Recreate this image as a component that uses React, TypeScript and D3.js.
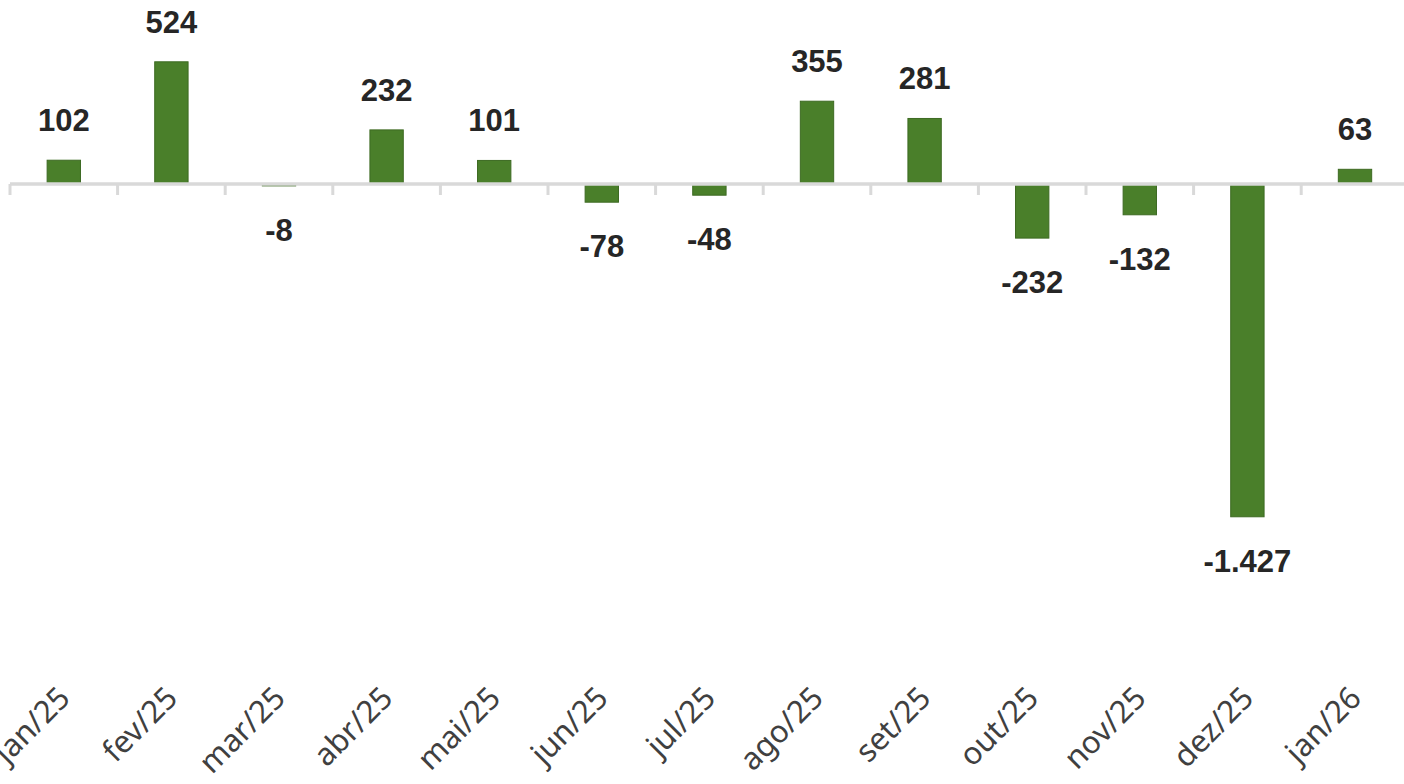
import React, {useEffect, useRef} from 'react'
import * as d3 from 'd3'

const months = ['jan/25', 'fev/25', 'mar/25', 'abr/25', 'mai/25', 'jun/25', 'jul/25', 'ago/25', 'set/25', 'out/25', 'nov/25', 'dez/25', 'jan/26']
const values = [102, 524, -8, 232, 101, -78, -48, 355, 281, -232, -132, -1427, 63]

const width = 1404
const height = 784
const barColor = '#4a7f2a'
const barStroke = '#3d6a22'
const axisColor = '#d9d9d9'

// pt-BR number format: 1.427, plain hyphen for negatives
const ptBR = d3.formatLocale({decimal: ',', thousands: '.', grouping: [3], currency: ['R$', ''], minus: '-'})
const fmt = ptBR.format(',d')

const App = () => {
  const ref = useRef<SVGSVGElement | null>(null)

  useEffect(() => {
    document.body.style.margin = '0'
    const svg = d3.select(ref.current)
    svg.selectAll('*').remove()

    const step = 107.6
    const x = d3.scaleBand()
      .domain(months)
      .range([10, 10 + step * months.length])
      .paddingInner(0.69)
      .paddingOuter(0.345)

    // slope: 524 -> 122px above the zero line
    const y = d3.scaleLinear()
      .domain([-1500, 600])
      .range([184 + 1500 * 0.2332, 184 - 600 * 0.2332])

    const y0 = y(0)

    // bars
    svg.selectAll('rect.bar')
      .data(values)
      .enter()
      .append('rect')
      .attr('class', 'bar')
      .attr('x', (d, i) => x(months[i])!)
      .attr('width', x.bandwidth())
      .attr('y', d => Math.min(y(d), y0))
      .attr('height', d => Math.abs(y(d) - y0))
      .attr('fill', barColor)
      .attr('stroke', barStroke)
      .attr('stroke-width', 1)

    // zero axis + ticks at band edges
    svg.append('line')
      .attr('x1', x.range()[0])
      .attr('x2', x.range()[1])
      .attr('y1', y0)
      .attr('y2', y0)
      .attr('stroke', axisColor)
      .attr('stroke-width', 3.5)

    const edges = d3.range(months.length + 1).map(i => x.range()[0] + i * x.step())
    svg.selectAll('line.tick')
      .data(edges)
      .enter()
      .append('line')
      .attr('class', 'tick')
      .attr('x1', d => d)
      .attr('x2', d => d)
      .attr('y1', y0)
      .attr('y2', y0 + 11)
      .attr('stroke', axisColor)
      .attr('stroke-width', 3)

    // value labels
    svg.selectAll('text.value')
      .data(values)
      .enter()
      .append('text')
      .attr('class', 'value')
      .text(d => fmt(d))
      .attr('x', (d, i) => x(months[i])! + x.bandwidth() / 2)
      .attr('y', d => d >= 0 ? y(d) - 29 : y(d) + 55)
      .attr('text-anchor', 'middle')
      .attr('font-family', '"Liberation Sans", Arial, sans-serif')
      .attr('font-weight', 700)
      .attr('font-size', 31)
      .attr('fill', '#262626')

    // month labels, rotated
    svg.selectAll('text.month')
      .data(months)
      .enter()
      .append('text')
      .attr('class', 'month')
      .text(d => d)
      .attr('transform', d => 'translate(' + (x(d)! + x.bandwidth() / 2 + 8) + ',700) rotate(-45)')
      .attr('text-anchor', 'end')
      .attr('font-family', '"Noto Sans", "Open Sans", sans-serif')
      .attr('font-size', 31)
      .attr('fill', '#404040')
  }, [])

  return <svg ref={ref} width={width} height={height} style={{display: 'block', background: '#fff'}} />
}

export default App
